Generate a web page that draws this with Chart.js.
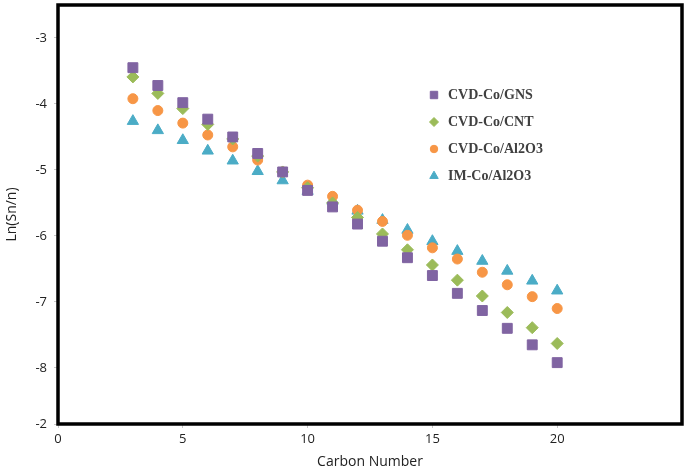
<!DOCTYPE html>
<html>
<head>
<meta charset="utf-8">
<script src="https://cdn.jsdelivr.net/npm/chart.js@4/dist/chart.umd.min.js"></script>
<style>
html, body { margin: 0; padding: 0; background: #fff; }
#wrap { width: 685px; height: 474px; position: relative; }
</style>
</head>
<body>
<div id="wrap"><canvas id="chart"></canvas></div>
<script>
const CARBON = [3, 4, 5, 6, 7, 8, 9, 10, 11, 12, 13, 14, 15, 16, 17, 18, 19, 20];
const GNS = [-3.45, -3.72, -3.98, -4.23, -4.50, -4.75, -5.03, -5.31, -5.56, -5.82, -6.08, -6.33, -6.60, -6.87, -7.13, -7.40, -7.65, -7.92];
const CNT = [-3.59, -3.84, -4.07, -4.31, -4.53, -4.79, -5.03, -5.27, -5.50, -5.72, -5.97, -6.21, -6.44, -6.67, -6.91, -7.16, -7.39, -7.63];
const CVD_AL = [-3.92, -4.10, -4.29, -4.47, -4.65, -4.85, -5.03, -5.23, -5.40, -5.61, -5.78, -5.99, -6.18, -6.35, -6.55, -6.74, -6.92, -7.10];
const IM_AL = [-4.26, -4.40, -4.55, -4.71, -4.86, -5.02, -5.16, -5.32, -5.47, -5.62, -5.76, -5.91, -6.08, -6.23, -6.38, -6.53, -6.68, -6.83];
const SERIES_NAMES = ["CVD-Co/GNS", "CVD-Co/CNT", "CVD-Co/Al2O3", "IM-Co/Al2O3"];
const COLORS = ["#8064A2", "#9BBB59", "#F79646", "#4BACC6"];
const SHAPES = ["rect", "rectRot", "circle", "triangle"];
const SIZES = [7, 6, 5, 6.5];
const Y_TICKS = [-8, -7, -6, -5, -4, -3];
const Y_BOTTOM = -8.85;
const Y_BOTTOM_LABEL = "-2";
const X_TICKS = [0, 5, 10, 15, 20];

function pts(ys) {
    return CARBON.map((c, i) => ({x: c, y: ys[i]}));
}

const frame = {
    id: "frame",
    afterDraw(chart) {
        const {ctx, chartArea: a} = chart;
        ctx.save();
        ctx.strokeStyle = "#000";
        ctx.lineWidth = 3.5;
        ctx.strokeRect(a.left, a.top, a.right - a.left, a.bottom - a.top);
        ctx.restore();
    }
};

// legend drawn inside the plot, like the excel original
const insideLegend = {
    id: "insideLegend",
    afterDraw(chart) {
        const ctx = chart.ctx;
        ctx.save();
        ctx.font = "bold 14px 'Liberation Serif'";
        ctx.textBaseline = "middle";
        SERIES_NAMES.forEach((name, i) => {
            const y = 95 + i * 27;
            ctx.fillStyle = COLORS[i];
            ctx.strokeStyle = COLORS[i];
            Chart.helpers.drawPoint(ctx, {pointStyle: SHAPES[i], radius: SIZES[i] * 0.75, borderWidth: 1}, 434, y);
            ctx.fillStyle = "#404040";
            ctx.fillText(name, 448, y);
        });
        ctx.restore();
    }
};

new Chart(document.getElementById("chart"), {
    type: "scatter",
    data: {
        datasets: [GNS, CNT, CVD_AL, IM_AL].map((ys, i) => ({
            label: SERIES_NAMES[i],
            data: pts(ys),
            pointStyle: SHAPES[i],
            pointRadius: SIZES[i],
            pointHoverRadius: SIZES[i],
            backgroundColor: COLORS[i],
            borderColor: COLORS[i],
            borderWidth: 1
        }))
    },
    options: {
        responsive: true,
        maintainAspectRatio: false,
        animation: false,
        layout: {autoPadding: false, padding: {top: 5, right: 3, left: 0, bottom: 0}},
        plugins: {legend: {display: false}, tooltip: {enabled: false}},
        scales: {
            x: {
                type: "linear",
                min: 0,
                max: 25,
                afterBuildTicks: axis => { axis.ticks = X_TICKS.map(v => ({value: v})); },
                afterFit: s => { s.height = 50; s.paddingLeft = 0; s.paddingRight = 0; },
                grid: {display: true, drawOnChartArea: false, tickLength: 4, color: "#c8c8c8"},
                border: {display: false},
                ticks: {font: {family: "'Open Sans'", size: 13}, color: "#222", padding: 3, maxRotation: 0},
                title: {display: true, text: "Carbon Number", font: {family: "'Open Sans'", size: 14}, color: "#222", padding: {top: 8}}
            },
            y: {
                type: "linear",
                min: Y_BOTTOM,
                max: -2.5,
                afterBuildTicks: axis => {
                    axis.ticks = [{value: Y_BOTTOM}].concat(Y_TICKS.map(v => ({value: v})));
                },
                afterFit: s => { s.width = 58; s.paddingTop = 0; s.paddingBottom = 0; },
                grid: {display: true, drawOnChartArea: false, tickLength: 4, color: "#c8c8c8"},
                border: {display: false},
                ticks: {
                    font: {family: "'Open Sans'", size: 13},
                    color: "#222",
                    padding: 7,
                    callback: v => (v === Y_BOTTOM ? Y_BOTTOM_LABEL : String(v))
                },
                title: {display: true, text: "Ln(Sn/n)", font: {family: "'Open Sans'", size: 14}, color: "#222", padding: {bottom: 2}}
            }
        }
    },
    plugins: [frame, insideLegend]
});
</script>
</body>
</html>
